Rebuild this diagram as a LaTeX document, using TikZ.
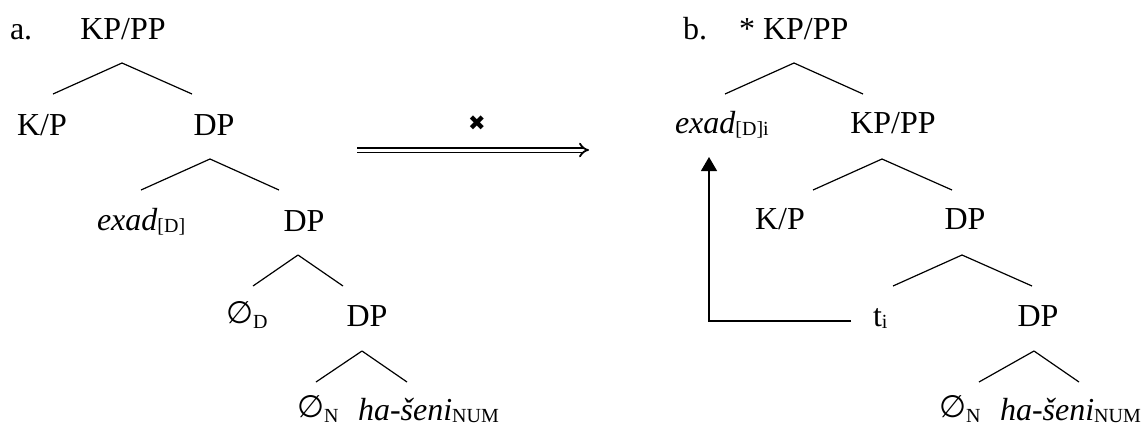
\documentclass[tikz,border=0pt]{standalone}
\usepackage{fontspec}
\setmainfont{Liberation Serif}
\newfontfamily\symfont{DejaVu Sans}
\newfontfamily\dingfont{DejaVu Sans}
\usetikzlibrary{arrows.meta}
\newcommand\lbsub[1]{\raisebox{-2pt}{\fontsize{20}{20}\selectfont\upshape #1}}
\newcommand\nullsym{\raisebox{2.5pt}{\symfont\fontsize{31}{31}\selectfont ∅}}
\begin{document}
\begin{tikzpicture}[x=1pt,y=-1pt,
  lab/.style={inner sep=0pt,outer sep=0pt,anchor=base,font=\fontsize{32}{38}\selectfont},
  labw/.style={lab,anchor=base west},
  branch/.style={line width=1.2pt},
  move/.style={line width=1.2pt,-{Triangle[width=16pt,length=14pt]}},
  dbl/.style={double,double distance=3pt,line width=1.8pt,-{Implies}}]
\useasboundingbox (0,0) rectangle (1146,426);

% ---------- tree a ----------
\node[labw] (la) at (10,39) {a.};
\node[lab] (kpa) at (123,39) {KP/PP};
\node[lab] (kpa1) at (42,135) {K/P};
\node[lab] (dpa1) at (214,135) {DP};
\node[labw] (exa) at (97,230) {\itshape exad\lbsub{[D]}};
\node[lab] (dpa2) at (304,231) {DP};
\node[labw] (nda) at (226,326) {\nullsym\lbsub{D}};
\node[lab] (dpa3) at (367,326) {DP};
\node[labw] (nna) at (297,420) {\nullsym\lbsub{N}};
\node[labw] (hsa) at (358,420) {\itshape ha-šeni\lbsub{NUM}};

\draw[branch] (kpa.base) ++(-1,24) coordinate (apa1) -- ++(-69,31);
\draw[branch] (apa1) -- ++(70,31);
\draw[branch] (dpa1.base) ++(-4,24) coordinate (apa2) -- ++(-69,31);
\draw[branch] (apa2) -- ++(69,31);
\draw[branch] (dpa2.base) ++(-6,24) coordinate (apa3) -- ++(-45,31);
\draw[branch] (apa3) -- ++(45,31);
\draw[branch] (dpa3.base) ++(-5,25) coordinate (apa4) -- ++(-46,31);
\draw[branch] (apa4) -- ++(45,31);

% ---------- transition arrow ----------
\coordinate (arrs) at (357,150);
\coordinate (arre) at (589,150);
\node[inner sep=0pt] (nox) at (477,123) {\dingfont\fontsize{21}{21}\selectfont ✖};
\draw[dbl] (arrs) -- (arre);

% ---------- tree b ----------
\node[labw] (lb) at (683,39) {b.};
\node[labw] (kpb) at (739,39) {* KP/PP};
\node[labw] (exb) at (675,133) {\itshape exad\lbsub{[D]i}};
\node[lab] (kpb2) at (893,133) {KP/PP};
\node[lab] (kpb3) at (780,229) {K/P};
\node[lab] (dpb1) at (965,229) {DP};
\node[labw] (tib) at (873,326) {t\lbsub{i}};
\node[lab] (dpb2) at (1038,326) {DP};
\node[labw] (nnb) at (939,420) {\nullsym\lbsub{N}};
\node[labw] (hsb) at (1000,420) {\itshape ha-šeni\lbsub{NUM}};

\coordinate (apb1) at (794,63);
\draw[branch] (apb1) -- ++(-69,31);
\draw[branch] (apb1) -- ++(69,31);
\draw[branch] (kpb2.base) ++(-11,26) coordinate (apb2) -- ++(-69,31);
\draw[branch] (apb2) -- ++(70,31);
\draw[branch] (dpb1.base) ++(-3,26) coordinate (apb3) -- ++(-69,31);
\draw[branch] (apb3) -- ++(70,31);
\draw[branch] (dpb2.base) ++(-4,25) coordinate (apb4) -- ++(-55,31);
\draw[branch] (apb4) -- ++(45,31);

% movement arrow
\coordinate (mvtop) at (709,157);
\draw[move] ([xshift=-22pt,yshift=5pt]tib.base west) -| (mvtop);
\end{tikzpicture}
\end{document}
